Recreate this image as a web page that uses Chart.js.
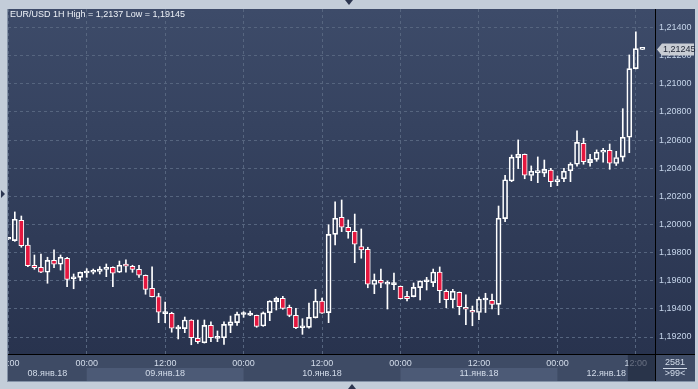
<!DOCTYPE html>
<html>
<head>
<meta charset="utf-8">
<script src="https://cdn.jsdelivr.net/npm/chart.js@4.4.1/dist/chart.umd.min.js"></script>
<style>
  html, body { margin: 0; padding: 0; background: #c3cdd9; }
  canvas { display: block; }
</style>
</head>
<body>
<canvas id="chart" width="698" height="389"></canvas>
<script>
// EUR/USD 1H, hourly candles from 08.янв.18 12:00 to 12.янв.18 13:00
// x value = hours from 09.янв.18 00:00
const firstHour = -12;

const openP = [
    1.19895, 1.19885, 1.20030, 1.19854, 1.19710, 1.19696, 1.19660, 1.19745, 1.19717, 1.19760,
    1.19614, 1.19624, 1.19655, 1.19660, 1.19667, 1.19681, 1.19696, 1.19660, 1.19719, 1.19703,
    1.19681, 1.19639, 1.19546, 1.19487, 1.19366, 1.19369, 1.19258, 1.19260, 1.19321, 1.19191,
    1.19159, 1.19283, 1.19190, 1.19195, 1.19283, 1.19302, 1.19360, 1.19356, 1.19354, 1.19278,
    1.19373, 1.19451, 1.19475, 1.19411, 1.19354, 1.19266, 1.19269, 1.19337, 1.19456, 1.19373,
    1.19930, 1.20051, 1.19980, 1.19951, 1.19842, 1.19824, 1.19573, 1.19603, 1.19576, 1.19572,
    1.19560, 1.19489, 1.19487, 1.19551, 1.19593, 1.19586, 1.19662, 1.19525, 1.19465, 1.19518,
    1.19411, 1.19390, 1.19374, 1.19463, 1.19461, 1.19432, 1.20041, 1.20309, 1.20475, 1.20499,
    1.20348, 1.20369, 1.20365, 1.20387, 1.20304, 1.20325, 1.20382, 1.20428, 1.20577, 1.20439,
    1.20463, 1.20513, 1.20527, 1.20433, 1.20479, 1.20620, 1.21108, 1.21245
];
const highP = [
    1.19900, 1.20089, 1.20060, 1.19904, 1.19783, 1.19790, 1.19767, 1.19819, 1.19783, 1.19767,
    1.19648, 1.19662, 1.19686, 1.19683, 1.19700, 1.19719, 1.19698, 1.19740, 1.19748, 1.19710,
    1.19710, 1.19641, 1.19698, 1.19511, 1.19449, 1.19376, 1.19283, 1.19342, 1.19323, 1.19321,
    1.19321, 1.19307, 1.19243, 1.19307, 1.19349, 1.19378, 1.19380, 1.19385, 1.19356, 1.19378,
    1.19458, 1.19484, 1.19489, 1.19427, 1.19404, 1.19330, 1.19442, 1.19539, 1.19477, 1.19998,
    1.20160, 1.20174, 1.20032, 1.20074, 1.19968, 1.19838, 1.19648, 1.19683, 1.19598, 1.19655,
    1.19562, 1.19525, 1.19584, 1.19600, 1.19624, 1.19683, 1.19698, 1.19536, 1.19539, 1.19520,
    1.19499, 1.19420, 1.19484, 1.19511, 1.19506, 1.20131, 1.20350, 1.20494, 1.20601, 1.20501,
    1.20416, 1.20480, 1.20458, 1.20399, 1.20345, 1.20399, 1.20439, 1.20665, 1.20613, 1.20499,
    1.20530, 1.20542, 1.20572, 1.20520, 1.20823, 1.21205, 1.21370, 1.21245
];
const lowP = [
    1.19893, 1.19880, 1.19838, 1.19700, 1.19681, 1.19658, 1.19582, 1.19693, 1.19676, 1.19558,
    1.19543, 1.19600, 1.19624, 1.19648, 1.19648, 1.19629, 1.19558, 1.19658, 1.19660, 1.19660,
    1.19624, 1.19504, 1.19485, 1.19302, 1.19302, 1.19234, 1.19186, 1.19231, 1.19145, 1.19155,
    1.19157, 1.19167, 1.19167, 1.19148, 1.19231, 1.19283, 1.19340, 1.19352, 1.19269, 1.19276,
    1.19316, 1.19392, 1.19397, 1.19344, 1.19260, 1.19219, 1.19262, 1.19335, 1.19367, 1.19302,
    1.19854, 1.19949, 1.19902, 1.19728, 1.19760, 1.19550, 1.19508, 1.19550, 1.19399, 1.19536,
    1.19470, 1.19456, 1.19485, 1.19463, 1.19534, 1.19558, 1.19444, 1.19408, 1.19408, 1.19358,
    1.19287, 1.19280, 1.19323, 1.19374, 1.19399, 1.19358, 1.20020, 1.20304, 1.20397, 1.20325,
    1.20311, 1.20297, 1.20340, 1.20269, 1.20276, 1.20304, 1.20304, 1.20414, 1.20428, 1.20414,
    1.20449, 1.20442, 1.20392, 1.20419, 1.20449, 1.20510, 1.21106, 1.21245
];
const closeP = [
    1.19900, 1.20037, 1.19849, 1.19707, 1.19693, 1.19660, 1.19745, 1.19717, 1.19767, 1.19610,
    1.19624, 1.19660, 1.19667, 1.19671, 1.19683, 1.19696, 1.19653, 1.19710, 1.19703, 1.19681,
    1.19639, 1.19539, 1.19487, 1.19376, 1.19372, 1.19262, 1.19262, 1.19321, 1.19195, 1.19167,
    1.19283, 1.19195, 1.19195, 1.19290, 1.19307, 1.19363, 1.19363, 1.19360, 1.19276, 1.19371,
    1.19456, 1.19475, 1.19404, 1.19354, 1.19266, 1.19276, 1.19339, 1.19456, 1.19369, 1.19930,
    1.20044, 1.19980, 1.19949, 1.19859, 1.19819, 1.19575, 1.19605, 1.19582, 1.19582, 1.19575,
    1.19472, 1.19472, 1.19553, 1.19598, 1.19600, 1.19662, 1.19529, 1.19465, 1.19525, 1.19415,
    1.19397, 1.19376, 1.19470, 1.19470, 1.19432, 1.20044, 1.20318, 1.20478, 1.20499, 1.20350,
    1.20378, 1.20380, 1.20392, 1.20304, 1.20316, 1.20378, 1.20428, 1.20584, 1.20446, 1.20463,
    1.20513, 1.20527, 1.20435, 1.20476, 1.20620, 1.21108, 1.21250, 1.21245
];

const dayLabels = ['08.янв.18', '09.янв.18', '10.янв.18', '11.янв.18', '12.янв.18'];
const dayStarts = [-24, 0, 24, 48, 72];
const shadedDays = [1, 3];
const titleText = 'EUR/USD 1H High = 1,2137 Low = 1,19145';
const lastPrice = 1.21245;
const cursorHour = 84;
const counterTop = '2581';
const counterBottom = '>99<';

// colours
const FRAME = '#c3cdd9';
const RED = '#e5173f';
const GRID = '#56657f';
const AXIS_BG = '#3e4b65';
const BAND = '#4c5a76';
const TXT = '#d3dcea';
const FONT = "'Liberation Sans', Arial, sans-serif";

const hours = openP.map((_, i) => firstHour + i);
const isUp = i => closeP[i] >= openP[i];

const bodyData = hours.map((h, i) => ({ x: h, y: [openP[i], closeP[i]] }));
const upperWick = hours.map((h, i) => ({ x: h, y: [Math.max(openP[i], closeP[i]), highP[i]] }));
const lowerWick = hours.map((h, i) => ({ x: h, y: [lowP[i], Math.min(openP[i], closeP[i])] }));

const fmt = v => v.toFixed(5).replace('.', ',');

// backgrounds, frame, texts
const chrome = {
    id: 'chrome',
    beforeDraw(chart) {
        const { ctx, chartArea: a, scales: { x } } = chart;
        const W = chart.width, H = chart.height;
        ctx.save();
        ctx.fillStyle = FRAME;
        ctx.fillRect(0, 0, W, H);
        const g = ctx.createLinearGradient(0, a.top, 0, a.bottom);
        g.addColorStop(0, '#3d4b69');
        g.addColorStop(1, '#28334e');
        ctx.fillStyle = g;
        ctx.fillRect(a.left, a.top, W - 3 - a.left, a.bottom - a.top);
        // bottom axis strip
        ctx.fillStyle = AXIS_BG;
        ctx.fillRect(a.left, a.bottom, W - 3 - a.left, H - 8 - a.bottom);
        shadedDays.forEach(d => {
            const x0 = Math.max(x.getPixelForValue(dayStarts[d]), a.left);
            const x1 = Math.min(x.getPixelForValue(dayStarts[d] + 24), a.right);
            ctx.fillStyle = BAND;
            ctx.fillRect(x0, a.bottom + 14, x1 - x0, H - 8 - a.bottom - 14);
        });
        ctx.restore();
    },
    afterDraw(chart) {
        const { ctx, chartArea: a, scales: { x, y } } = chart;
        const W = chart.width, H = chart.height;
        ctx.save();
        // cursor box on time axis
        const cx = x.getPixelForValue(cursorHour) - 8;
        ctx.fillStyle = 'rgba(28,37,56,0.6)';
        ctx.fillRect(cx, a.bottom + 1, a.right - cx, H - 9 - a.bottom);

        // frame over label overflow
        ctx.fillStyle = FRAME;
        ctx.fillRect(0, 0, a.left, H);
        ctx.fillRect(0, 0, W, a.top);
        ctx.fillRect(0, H - 8, W, 8);
        ctx.fillRect(W - 3, 0, 3, H);
        ctx.fillStyle = '#8593a8';
        ctx.fillRect(a.left - 1, a.top, 1, H - 8 - a.top);
        ctx.fillRect(a.left - 1, H - 8, W - 3 - a.left + 1, 1);

        // separators
        ctx.fillStyle = '#000';
        ctx.fillRect(a.left, a.bottom, W - 3 - a.left, 1);
        ctx.fillRect(a.right, a.top, 1, H - 8 - a.top);

        // frame triangles
        ctx.fillStyle = '#2c3650';
        ctx.beginPath(); ctx.moveTo(345, 0); ctx.lineTo(353, 0); ctx.lineTo(349, 5); ctx.fill();
        ctx.beginPath(); ctx.moveTo(1, 190); ctx.lineTo(1, 198); ctx.lineTo(5, 194); ctx.fill();
        ctx.beginPath(); ctx.moveTo(348, 389); ctx.lineTo(356, 389); ctx.lineTo(352, 384); ctx.fill();

        // title
        ctx.font = '9px ' + FONT;
        ctx.textBaseline = 'middle';
        ctx.textAlign = 'left';
        ctx.fillStyle = '#eef2f8';
        ctx.fillText(titleText, 10, 15);

        // date row
        ctx.textAlign = 'center';
        ctx.fillStyle = TXT;
        dayLabels.forEach((lab, d) => {
            const x0 = Math.max(x.getPixelForValue(dayStarts[d]), a.left);
            const x1 = Math.min(x.getPixelForValue(dayStarts[d] + 24), a.right);
            ctx.fillText(lab, (x0 + x1) / 2, a.bottom + 20);
        });

        // counter box
        const bx = (a.right + W - 3) / 2;
        ctx.fillText(counterTop, bx, a.bottom + 9);
        ctx.fillRect(bx - 12, a.bottom + 14, 24, 1);
        ctx.fillText(counterBottom, bx, a.bottom + 20);

        // last price marker
        const py = Math.round(y.getPixelForValue(lastPrice)) + 0.5;
        ctx.fillStyle = '#c8ccd3';
        ctx.beginPath();
        ctx.moveTo(a.right + 2, py);
        ctx.lineTo(a.right + 7, py - 6);
        ctx.lineTo(W - 4, py - 6);
        ctx.lineTo(W - 4, py + 6);
        ctx.lineTo(a.right + 7, py + 6);
        ctx.closePath();
        ctx.fill();
        ctx.fillStyle = '#1d2333';
        ctx.textAlign = 'left';
        ctx.fillText(fmt(lastPrice), a.right + 8, py);
        ctx.restore();
    }
};

new Chart(document.getElementById('chart'), {
    type: 'bar',
    data: {
        datasets: [
            {
                data: bodyData,
                grouped: false,
                barThickness: 5,
                minBarLength: 2,
                borderWidth: 1,
                borderColor: '#ffffff',
                borderSkipped: false,
                backgroundColor: hours.map((_, i) => isUp(i) ? 'rgba(0,0,0,0)' : RED)
            },
            { data: upperWick, grouped: false, barThickness: 1, backgroundColor: '#ffffff', borderWidth: 0 },
            { data: lowerWick, grouped: false, barThickness: 1, backgroundColor: '#ffffff', borderWidth: 0 }
        ]
    },
    options: {
        responsive: false,
        animation: false,
        layout: { padding: { left: 8, top: 9, right: 3, bottom: 8 } },
        plugins: { legend: { display: false }, tooltip: { enabled: false } },
        scales: {
            x: {
                type: 'linear',
                offset: false,
                min: -12.04,
                max: 86.93,
                afterFit: s => { s.height = 27; s.paddingLeft = 0; s.paddingRight = 0; },
                grid: { color: GRID, drawTicks: false, offset: false },
                border: { display: false, dash: [3, 3] },
                ticks: {
                    stepSize: 12,
                    includeBounds: false,
                    autoSkip: false,
                    maxRotation: 0,
                    padding: 4,
                    color: TXT,
                    font: { family: FONT, size: 9 },
                    callback: v => (((v % 24) + 24) % 24 === 0 ? '00:00' : '12:00')
                }
            },
            y: {
                position: 'right',
                min: 1.190792,
                max: 1.215315,
                afterFit: s => { s.width = 40; s.paddingTop = 0; s.paddingBottom = 0; },
                grid: { color: GRID, drawTicks: false },
                border: { display: false, dash: [3, 3] },
                ticks: {
                    stepSize: 0.002,
                    includeBounds: false,
                    padding: 4,
                    color: '#c6d5ea',
                    font: { family: FONT, size: 9 },
                    callback: v => fmt(v)
                }
            }
        }
    },
    plugins: [chrome]
});
</script>
</body>
</html>
